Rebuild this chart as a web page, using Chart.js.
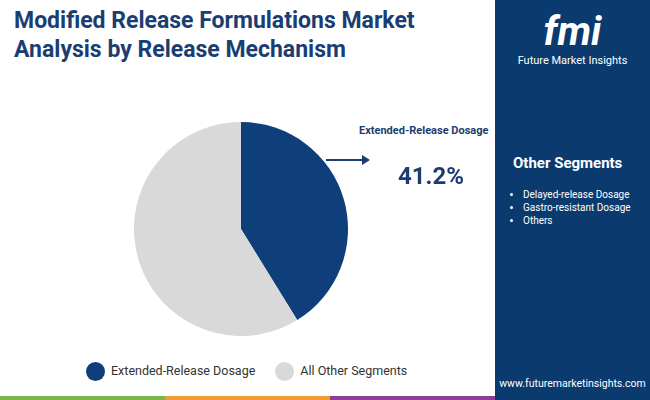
<!DOCTYPE html>
<html>
<head>
<meta charset="utf-8">
<script src="https://cdn.jsdelivr.net/npm/chart.js@4"></script>
<style>
  body { margin:0; width:650px; height:400px; position:relative; overflow:hidden; background:#fff; font-family:Roboto, "Noto Sans", sans-serif; }
  .title { position:absolute; left:14px; top:6px; font-size:23px; font-weight:bold; color:#1b3d72; line-height:29px; }
  .side { position:absolute; left:495px; top:0; width:155px; height:400px; background:#0b3a6e; }
  .logo { position:absolute; left:0; top:10px; width:155px; text-align:center; color:#fff; }
  .logo .big { font-size:40px; font-weight:bold; font-style:italic; line-height:44px; }
  .logo .small { font-size:11px; }
  .other { position:absolute; left:18px; top:154px; color:#fff; font-weight:bold; font-size:15px; }
  .list { position:absolute; left:14px; top:188px; color:#fff; font-size:10px; margin:0; padding-left:14px; line-height:13px; }
  .url { position:absolute; left:0; width:155px; top:377px; color:#fff; font-size:10.5px; text-align:center; }
  .box { position:absolute; left:134px; top:122px; width:214px; height:214px; }
  .lbl { position:absolute; left:359px; top:124px; font-size:11px; font-weight:bold; color:#1b3d72; }
  .pct { position:absolute; left:398px; top:162px; font-size:24px; font-weight:bold; color:#1b3d72; }
  .arrow { position:absolute; left:326px; top:159px; width:38px; height:2px; background:#1b3d72; }
  .arrowhead { position:absolute; left:362px; top:155px; width:0; height:0; border-top:5px solid transparent; border-bottom:5px solid transparent; border-left:8px solid #1b3d72; }
  .legend { position:absolute; top:362px; left:86px; display:flex; gap:20px; font-size:12.5px; color:#333; }
  .legend span.dot { display:inline-block; width:19px; height:19px; border-radius:50%; vertical-align:middle; margin-right:6px; }
  .strip { position:absolute; top:396px; height:4px; }
</style>
</head>
<body>
<div class="title">Modified Release Formulations Market<br>Analysis by Release Mechanism</div>
<div class="side">
  <div class="logo"><div class="big">fmi</div><div class="small">Future Market Insights</div></div>
  <div class="other">Other Segments</div>
  <ul class="list" id="others"></ul>
  <div class="url">www.futuremarketinsights.com</div>
</div>
<div class="box"><canvas id="grafico"></canvas></div>
<div class="lbl" id="lbl"></div>
<div class="arrow"></div><div class="arrowhead"></div>
<div class="pct" id="pct"></div>
<div class="legend" id="legend"></div>
<div class="strip" style="left:0;width:165px;background:#7ab648"></div>
<div class="strip" style="left:165px;width:165px;background:#f39c34"></div>
<div class="strip" style="left:330px;width:165px;background:#8e3e97"></div>
<div class="strip" style="left:495px;width:155px;background:#0b3a6e"></div>
<script>
let categorias = ["Extended-Release Dosage", "All Other Segments"];
let valores = [41.2, 58.8];
let colores = ["#0e3f7a", "#d9d9d9"];
let otrosSegmentos = ["Delayed-release Dosage", "Gastro-resistant Dosage", "Others"];

document.getElementById("lbl").innerText = categorias[0];
document.getElementById("pct").innerText = valores[0] + "%";
document.getElementById("others").innerHTML = otrosSegmentos.map(s => "<li>" + s + "</li>").join("");
document.getElementById("legend").innerHTML = categorias.map((c, i) =>
  '<div><span class="dot" style="background:' + colores[i] + '"></span>' + c + '</div>').join("");

const ctx = document.getElementById('grafico');
let grafico = new Chart(ctx, {
  type: 'pie',
  data: {
    labels: categorias,
    datasets: [{ data: valores, backgroundColor: colores, borderWidth: 0 }]
  },
  options: {
    responsive: true,
    maintainAspectRatio: false,
    animation: false,
    layout: { padding: 0 },
    plugins: { legend: { display: false }, tooltip: { enabled: false } }
  }
});
</script>
</body>
</html>
